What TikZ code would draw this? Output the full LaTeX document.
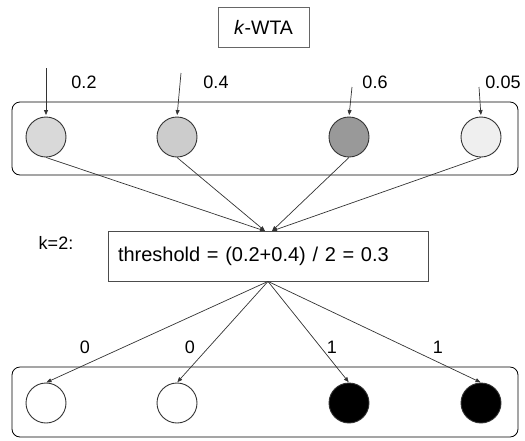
\documentclass[tikz,border=0pt]{standalone}
\usepackage{fontspec}
\setmainfont{Liberation Sans}
\usetikzlibrary{arrows.meta}
\definecolor{lineg}{HTML}{333333}
\definecolor{cA}{HTML}{D9D9D9}
\definecolor{cB}{HTML}{CCCCCC}
\definecolor{cC}{HTML}{999999}
\definecolor{cD}{HTML}{EFEFEF}
\tikzset{
  neuron/.style={circle, draw=lineg, line width=0.9pt, minimum size=40pt, inner sep=0pt},
  group/.style={draw=black, rounded corners=8pt, line width=0.8pt, inner sep=0pt},
  plainbox/.style={draw=black!60, line width=0.8pt, inner sep=0pt},
  conn/.style={draw=lineg, line width=0.7pt, -{Triangle[length=5pt,width=4pt]}},
  lbl/.style={font=\fontsize{18}{21}\selectfont, inner sep=0pt},
}
\begin{document}
\begin{tikzpicture}[x=1pt,y=-1pt]
\useasboundingbox (0,0) rectangle (525,440);
% title
\node[plainbox, minimum width=91pt, minimum height=40pt, font=\fontsize{19.5}{22}\selectfont] (kwta) at (263.5,27) {\textit{k}-WTA};
% top group
\node[group, minimum width=506pt, minimum height=73pt] (topg) at (265,138.5) {};
\node[neuron, fill=cA] (t1) at (46,137) {};
\node[neuron, fill=cB] (t2) at (177,137) {};
\node[neuron, fill=cC] (t3) at (349,137) {};
\node[neuron, fill=cD] (t4) at (481,137) {};
\coordinate (s1) at (46,68);
\coordinate (s2) at (181,73);
\coordinate (s3) at (352,87);
\coordinate (s4) at (479,87);
\draw[conn, shorten >=1.5pt] (s1) -- (t1.north);
\draw[conn, shorten >=1.5pt] (s2) -- (t2.north);
\draw[conn, shorten >=1.5pt] (s3) -- (t3.north);
\draw[conn, shorten >=1.5pt] (s4) -- (t4.north);
\node[lbl] (l1) at (84,82) {0.2};
\node[lbl] (l2) at (216,82) {0.4};
\node[lbl] (l3) at (375,82) {0.6};
\node[lbl] (l4) at (503,82) {0.05};
% threshold box
\node[plainbox, draw=black!70, minimum width=320pt, minimum height=50pt, text width=300pt, align=left, inner xsep=10pt, font=\fontsize{20}{23}\selectfont] (thr) at (268,256) {threshold = (0.2+0.4) / 2 = 0.3};
\node[lbl] (k2) at (56,243) {k=2:};
\coordinate (inL) at (265,231);
\coordinate (inR) at (272,231);
\draw[conn] (t1.south) -- (inL);
\draw[conn] (t2.south) -- (inL);
\draw[conn] (t3.south) -- (inR);
\draw[conn] (t4.south) -- (inR);
% bottom group
\node[group, minimum width=506pt, minimum height=70pt] (botg) at (265,402) {};
\node[neuron, fill=white] (b1) at (46,403) {};
\node[neuron, fill=white] (b2) at (177,403) {};
\node[neuron, fill=black] (b3) at (349,403) {};
\node[neuron, fill=black] (b4) at (481,403) {};
\draw[conn, shorten >=0.5pt] (thr.south) -- (b1.north);
\draw[conn, shorten >=0.5pt] (thr.south) -- (b2.north);
\draw[conn, shorten >=0.5pt] (thr.south) -- (b3.north);
\draw[conn, shorten >=0.5pt] (thr.south) -- (b4.north);
\node[lbl] (o1) at (85,347) {0};
\node[lbl] (o2) at (190,347) {0};
\node[lbl] (o3) at (332,347) {1};
\node[lbl] (o4) at (438,347) {1};
\end{tikzpicture}
\end{document}
